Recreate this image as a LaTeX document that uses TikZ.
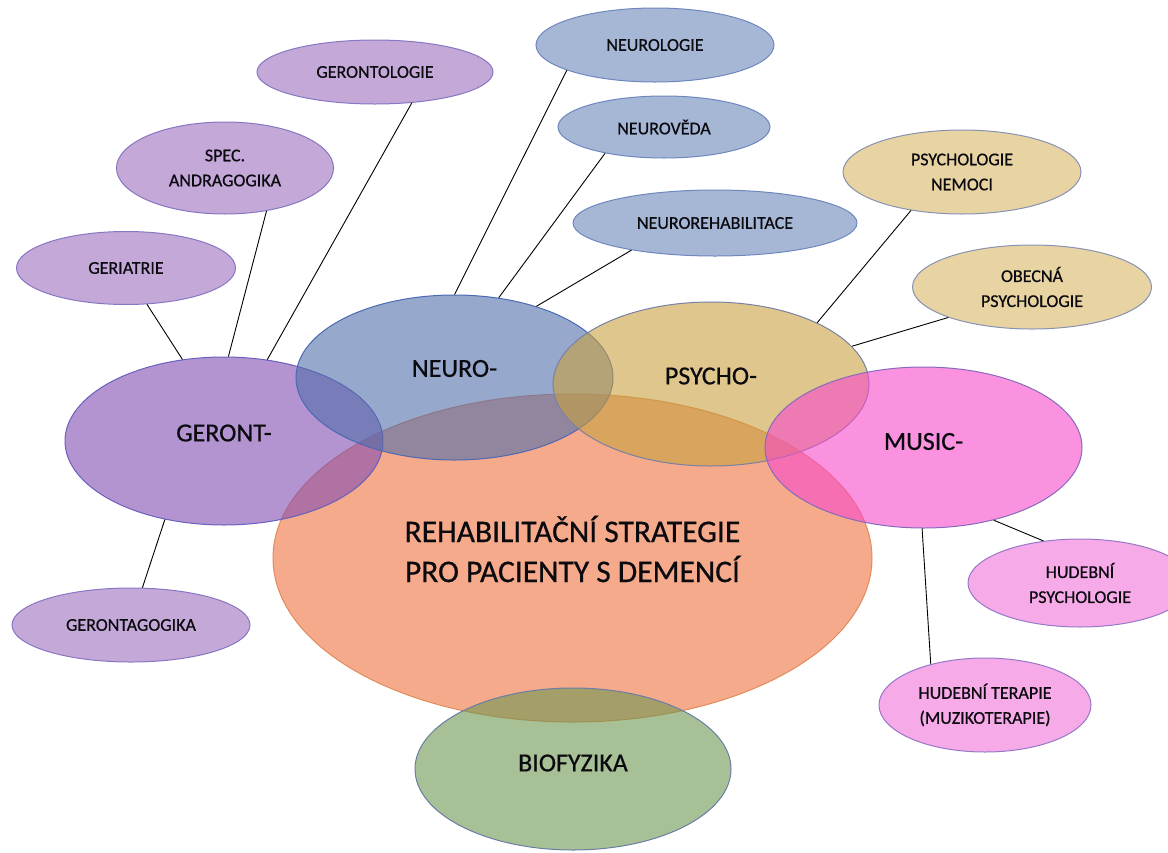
\documentclass[tikz,border=0pt]{standalone}
\usepackage{fontspec}
\setmainfont{Carlito}[FakeBold=0.6]
\usetikzlibrary{shapes.geometric}
\definecolor{purS}{RGB}{196,168,216}
\definecolor{purSB}{RGB}{135,118,195}
\definecolor{bluS}{RGB}{166,183,214}
\definecolor{bluSB}{RGB}{110,135,190}
\definecolor{tanS}{RGB}{232,212,162}
\definecolor{tanSB}{RGB}{135,145,180}
\definecolor{pinS}{RGB}{247,170,232}
\definecolor{pinSB}{RGB}{150,120,200}
\definecolor{gerC}{RGB}{130,77,177}
\definecolor{gerB}{RGB}{105,95,190}
\definecolor{neuC}{RGB}{80,110,170}
\definecolor{neuB}{RGB}{75,105,180}
\definecolor{psyC}{RGB}{200,160,63}
\definecolor{psyB}{RGB}{120,128,165}
\definecolor{musC}{RGB}{247,73,203}
\definecolor{musB}{RGB}{135,105,190}
\definecolor{rehC}{RGB}{238,113,63}
\definecolor{rehB}{RGB}{225,140,90}
\definecolor{bioC}{RGB}{110,150,80}
\definecolor{bioB}{RGB}{105,125,165}
\definecolor{txt}{RGB}{10,10,15}
\tikzset{
  ell/.style={ellipse, inner sep=0pt, align=center, text=txt},
  sm/.style={ell, font=\fontsize{18}{25}\selectfont, line width=1pt},
  pur/.style={sm, fill=purS, draw=purSB},
  blu/.style={sm, fill=bluS, draw=bluSB},
  tan/.style={sm, fill=tanS, draw=tanSB},
  pin/.style={sm, fill=pinS, draw=pinSB},
  big/.style={ellipse, inner sep=0pt, fill opacity=0.6, line width=1pt},
  lbl/.style={inner sep=0pt, align=center, text=txt, font=\fontsize{26}{40}\selectfont},
  con/.style={draw=black, line width=0.9pt},
}
\begin{document}
\begin{tikzpicture}[x=1pt, y=-1pt]
\useasboundingbox (0,0) rectangle (1168,852);
% small satellite ellipses
\node[pur, minimum width=236pt, minimum height=64pt] (gerontologie) at (375,72) {GERONTOLOGIE};
\node[pur, minimum width=217pt, minimum height=92pt] (spec) at (225,168) {SPEC.\\ANDRAGOGIKA};
\node[pur, minimum width=219pt, minimum height=73pt] (geriatrie) at (126,268) {GERIATRIE};
\node[pur, minimum width=238pt, minimum height=74pt] (gerontagogika) at (131,625) {GERONTAGOGIKA};
\node[blu, minimum width=238pt, minimum height=74pt] (neurologie) at (655,45) {NEUROLOGIE};
\node[blu, minimum width=212pt, minimum height=62pt] (neuroveda) at (664,127) {NEUROVĚDA};
\node[blu, minimum width=284pt, minimum height=66pt] (neurorehab) at (715,223) {NEUROREHABILITACE};
\node[tan, minimum width=238pt, minimum height=84pt] (psychnemoci) at (962,172) {PSYCHOLOGIE\\NEMOCI};
\node[tan, minimum width=239pt, minimum height=84pt] (obecna) at (1032,287) {OBECNÁ\\PSYCHOLOGIE};
\node[pin, minimum width=224pt, minimum height=88pt] (hudpsych) at (1080,583) {HUDEBNÍ\\PSYCHOLOGIE};
\node[pin, minimum width=212pt, minimum height=94pt] (hudterapie) at (985,705) {HUDEBNÍ TERAPIE\\(MUZIKOTERAPIE)};
% big overlapping ellipses
\node[big, fill=rehC, draw=rehB, minimum width=599pt, minimum height=328pt] (rehab) at (572.5,558) {};
\node[big, fill=gerC, draw=gerB, minimum width=318pt, minimum height=168pt] (geront) at (224,441) {};
\node[big, fill=neuC, draw=neuB, minimum width=317pt, minimum height=165pt] (neuro) at (454.5,377.5) {};
\node[big, fill=psyC, draw=psyB, minimum width=316pt, minimum height=164pt] (psycho) at (711,384) {};
\node[big, fill=musC, draw=musB, minimum width=317pt, minimum height=161pt] (music) at (923.5,447.5) {};
\node[big, fill=bioC, draw=bioB, minimum width=316pt, minimum height=162pt] (bio) at (573,769) {};
% labels of the big ellipses
\node[lbl, font=\fontsize{31.5}{40}\selectfont] (rehabT) at ([yshift=9pt]rehab.center) {REHABILITAČNÍ STRATEGIE\\PRO PACIENTY S DEMENCÍ};
\node[lbl] (gerontT) at ([yshift=8pt]geront.center) {GERONT-};
\node[lbl] (neuroT) at ([yshift=9pt]neuro.center) {NEURO-};
\node[lbl] (psychoT) at ([yshift=8pt]psycho.center) {PSYCHO-};
\node[lbl] (musicT) at ([yshift=6pt]music.center) {MUSIC-};
\node[lbl] (bioT) at ([yshift=6pt]bio.center) {BIOFYZIKA};
% connectors
\draw[con] (geriatrie.-60) -- (geront.117);
\draw[con] (spec.-46) -- (geront.87);
\draw[con] (gerontologie.-40) -- (geront.62);
\draw[con] (geront.-127) -- (gerontagogika.73);
\draw[con] (neurologie.-164) -- (neuro.90);
\draw[con] (neuroveda.-156) -- (neuro.61);
\draw[con] (neurorehab.-162) -- (neuro.41);
\draw[con] (psychnemoci.-143) -- (psycho.30);
\draw[con] (obecna.-160) -- (psycho.15);
\draw[con] (music.-46) -- (hudpsych.131);
\draw[con] (music.-91) -- (hudterapie.143);
\end{tikzpicture}
\end{document}
